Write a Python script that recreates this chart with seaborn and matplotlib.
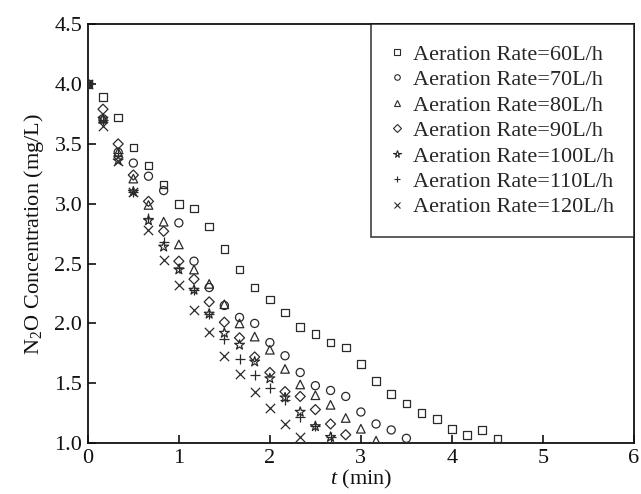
import numpy as np
import pandas as pd
import matplotlib
matplotlib.use("Agg")
import matplotlib.pyplot as plt
import seaborn as sns
from matplotlib.lines import Line2D

# ---- data (time step = 1/6 min) ----
rate_60 = [4.00, 3.89, 3.72, 3.47, 3.32, 3.16, 3.00, 2.96, 2.81, 2.62, 2.45, 2.30, 2.20, 2.09,
           1.97, 1.91, 1.84, 1.80, 1.66, 1.52, 1.41, 1.33, 1.25, 1.20, 1.12, 1.07, 1.11, 1.04]
rate_70 = [4.00, 3.71, 3.43, 3.34, 3.23, 3.11, 2.84, 2.52, 2.30, 2.15, 2.05, 2.00, 1.84, 1.73,
           1.59, 1.48, 1.44, 1.39, 1.26, 1.16, 1.11, 1.04]
rate_80 = [4.00, 3.71, 3.43, 3.21, 2.99, 2.85, 2.66, 2.45, 2.33, 2.16, 2.00, 1.89, 1.78, 1.62,
           1.49, 1.40, 1.32, 1.21, 1.12, 1.02]
rate_90 = [4.00, 3.79, 3.50, 3.24, 3.02, 2.77, 2.52, 2.37, 2.18, 2.01, 1.88, 1.72, 1.59, 1.43,
           1.39, 1.28, 1.16, 1.07]
rate_100 = [4.00, 3.71, 3.36, 3.10, 2.86, 2.64, 2.45, 2.28, 2.08, 1.92, 1.82, 1.68, 1.54, 1.38,
            1.26, 1.14, 1.05]
rate_110 = [4.00, 3.70, 3.42, 3.10, 2.88, 2.68, 2.46, 2.28, 2.08, 1.87, 1.70, 1.57, 1.46, 1.36,
            1.22, 1.14, 1.05]
rate_120 = [4.00, 3.65, 3.36, 3.10, 2.78, 2.53, 2.32, 2.11, 1.93, 1.73, 1.58, 1.43, 1.29, 1.16,
            1.05]
time_step = 1.0 / 6.0

labels = ["Aeration Rate=60L/h", "Aeration Rate=70L/h", "Aeration Rate=80L/h",
          "Aeration Rate=90L/h", "Aeration Rate=100L/h", "Aeration Rate=110L/h",
          "Aeration Rate=120L/h"]
series = [rate_60, rate_70, rate_80, rate_90, rate_100, rate_110, rate_120]
markers = ["s", "o", "^", "D", "*", "+", "x"]
sizes = [30, 34, 38, 26, 55, 50, 45]
xticks = [0, 1, 2, 3, 4, 5, 6]
yticks = [1.0, 1.5, 2.0, 2.5, 3.0, 3.5, 4.0, 4.5]

rows = []
for lab, vals in zip(labels, series):
    for k, v in enumerate(vals):
        rows.append({"t": k * time_step, "c": v, "rate": lab})
df = pd.DataFrame(rows)

sns.set_theme(style="ticks")
plt.rcParams["font.family"] = ["Liberation Serif", "DejaVu Serif"]
plt.rcParams["mathtext.fontset"] = "custom"
plt.rcParams["mathtext.rm"] = "Liberation Serif"
plt.rcParams["mathtext.it"] = "Liberation Serif:italic"

col = "#2a2a2a"
fig = plt.figure(figsize=(6.41, 4.94), dpi=100)
ax = fig.add_axes([0.137, 0.103, 0.852, 0.848])

handles = []
for lab, m, s in zip(labels, markers, sizes):
    sub = df[df["rate"] == lab]
    if m in ("+", "x"):
        sns.scatterplot(data=sub, x="t", y="c", marker=m, s=s, color=col,
                        linewidth=0.9, ax=ax, legend=False, zorder=3)
        handles.append(Line2D([], [], linestyle="none", marker=m, markersize=4.5,
                              color=col, markeredgewidth=0.8))
    else:
        sns.scatterplot(data=sub, x="t", y="c", marker=m, s=s, facecolor="none",
                        edgecolor=col, linewidth=0.9, ax=ax, legend=False, zorder=3)
        ms = 4.0 if m != "*" else 5.5
        handles.append(Line2D([], [], linestyle="none", marker=m, markersize=ms,
                              markerfacecolor="none", markeredgecolor=col,
                              markeredgewidth=0.8))

ax.set_xlim(0, 6)
ax.set_ylim(1.0, 4.5)
ax.set_xticks(xticks)
ax.set_yticks(yticks)
ax.set_xticklabels([str(v) for v in xticks])
ax.set_yticklabels([f"{v:.1f}" for v in yticks])
ax.tick_params(direction="in", length=6, width=1.2, labelsize=16, colors="#111111",
               top=False, right=False, pad=4)
for sp in ax.spines.values():
    sp.set_linewidth(1.3)
    sp.set_color("#111111")
    sp.set_visible(True)

ax.set_xlabel(r"$t$ (min)", fontsize=16, labelpad=0, color="#111111")
ax.set_ylabel(r"N$_2$O Concentration (mg/L)", fontsize=16, labelpad=6, color="#111111")

leg = ax.legend(handles, labels, loc="upper right", borderaxespad=0, fontsize=16,
                frameon=True, fancybox=False, edgecolor="#111111", labelspacing=0.22,
                handlelength=0.6, handletextpad=0.4, borderpad=0.9)
leg.get_frame().set_linewidth(1.2)

fig.savefig("out.png", dpi=100)
